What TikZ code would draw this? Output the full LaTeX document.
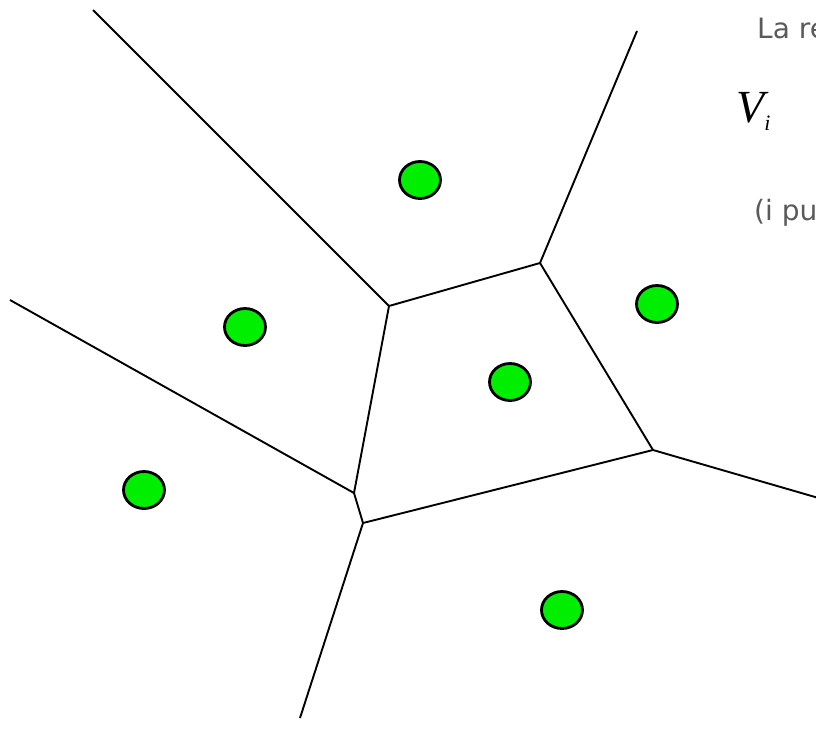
\documentclass[tikz,border=0pt]{standalone}
\usepackage{fontspec}
\setmainfont{DejaVu Sans}
\newfontfamily\serifit{Liberation Serif}
\definecolor{dotgreen}{RGB}{0,238,0}
\definecolor{txtgray}{RGB}{90,90,90}
\tikzset{
  edge/.style={line width=1.9pt, black},
  site/.style={ellipse, draw=black, line width=2.8pt, fill=dotgreen, minimum width=41pt, minimum height=37pt, inner sep=0pt},
  lbl/.style={anchor=base west, inner sep=0pt, text=txtgray, font=\fontsize{28}{32}\selectfont}
}
\usetikzlibrary{shapes.geometric}
\begin{document}
\begin{tikzpicture}[x=1pt,y=-1pt]
\useasboundingbox (0,0) rectangle (816,734);
\clip (0,0) rectangle (816,734);
\fill[white] (0,0) rectangle (816,734);
% vertices
\coordinate (A) at (389,306);
\coordinate (B) at (540,263);
\coordinate (C) at (653,450);
\coordinate (D) at (354,493);
\coordinate (E) at (363,523);
% free ends
\coordinate (a1) at (93,10);
\coordinate (b1) at (637,31);
\coordinate (c1) at (822,499);
\coordinate (d1) at (10,300);
\coordinate (e1) at (300,718);
\draw[edge] (a1) -- (A);
\draw[edge] (b1) -- (B);
\draw[edge] (A) -- (B);
\draw[edge] (B) -- (C);
\draw[edge] (C) -- (c1);
\draw[edge] (A) -- (D);
\draw[edge] (d1) -- (D);
\draw[edge] (D) -- (E);
\draw[edge] (E) -- (C);
\draw[edge] (E) -- (e1);
% sites
\node[site] (s1) at (420,180) {};
\node[site] (s2) at (245,327) {};
\node[site] (s3) at (657,304) {};
\node[site] (s4) at (510,382) {};
\node[site] (s5) at (144,490) {};
\node[site] (s6) at (562,610) {};
% texts
\node[lbl] (t1) at (757,38) {La regione};
\node[anchor=base west, inner sep=0pt, font=\fontsize{46}{48}\selectfont\serifit\itshape] (t2) at (736,122) {V\raisebox{-8pt}{\fontsize{22}{24}\selectfont i}};
\node[lbl] (t3) at (754,220) {(i punti};
\end{tikzpicture}
\end{document}
